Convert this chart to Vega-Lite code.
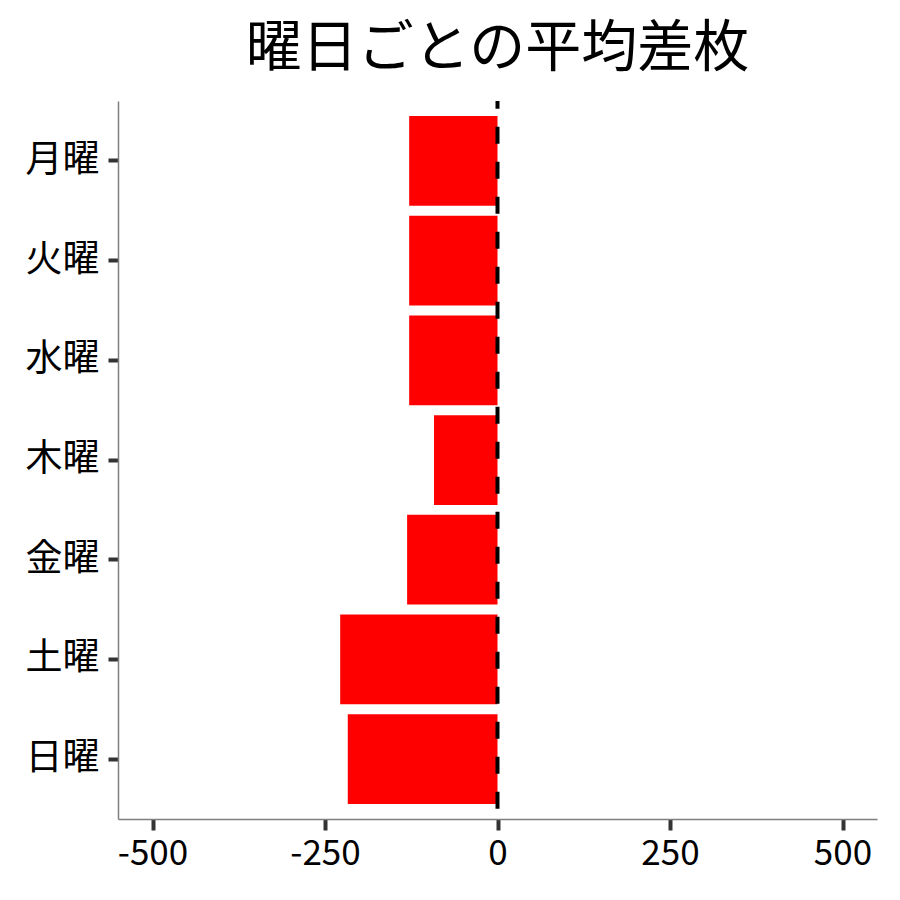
{
  "$schema": "https://vega.github.io/schema/vega-lite/v6.json",
  "width": 759,
  "height": 718,
  "autosize": {"type": "none"},
  "padding": {"left": 118, "top": 101, "right": 23, "bottom": 81},
  "background": "white",
  "title": {
    "text": "曜日ごとの平均差枚",
    "anchor": "middle",
    "frame": "group",
    "font": "Noto Sans CJK JP",
    "fontSize": 56,
    "fontWeight": "normal",
    "color": "black",
    "offset": 21
  },
  "config": {
    "view": {"stroke": null},
    "font": "Noto Sans CJK JP"
  },
  "layer": [
    {
      "data": {
        "values": [
          {"day": "月曜", "diff": -128},
          {"day": "火曜", "diff": -128},
          {"day": "水曜", "diff": -128},
          {"day": "木曜", "diff": -92},
          {"day": "金曜", "diff": -131},
          {"day": "土曜", "diff": -228},
          {"day": "日曜", "diff": -217}
        ]
      },
      "mark": {"type": "bar", "color": "#FF0000"},
      "encoding": {
        "y": {
          "field": "day",
          "type": "nominal",
          "sort": ["月曜", "火曜", "水曜", "木曜", "金曜", "土曜", "日曜"],
          "scale": {"paddingInner": 0.1, "paddingOuter": 0.15},
          "axis": {
            "title": null,
            "labelFont": "Noto Sans CJK JP",
            "labelFontSize": 37,
            "labelColor": "black",
            "labelPadding": 9,
            "domainColor": "#7f7f7f",
            "domainWidth": 1.5,
            "tickColor": "#333333",
            "tickWidth": 4,
            "tickSize": 10
          }
        },
        "x": {
          "field": "diff",
          "type": "quantitative",
          "scale": {"domain": [-550, 550], "nice": false, "zero": false},
          "axis": {
            "title": null,
            "values": [-500, -250, 0, 250, 500],
            "labelExpr": "'' + datum.value",
            "grid": false,
            "labelFont": "Noto Sans CJK JP",
            "labelFontSize": 35,
            "labelColor": "black",
            "labelPadding": 6,
            "domainColor": "#7f7f7f",
            "domainWidth": 1.5,
            "tickColor": "#333333",
            "tickWidth": 4,
            "tickSize": 11
          }
        }
      }
    },
    {
      "data": {"values": [{"zero": 0}]},
      "mark": {
        "type": "rule",
        "color": "black",
        "strokeWidth": 4,
        "strokeDash": [17, 18],
        "strokeDashOffset": 9.3
      },
      "encoding": {
        "x": {"field": "zero", "type": "quantitative"}
      }
    }
  ]
}
